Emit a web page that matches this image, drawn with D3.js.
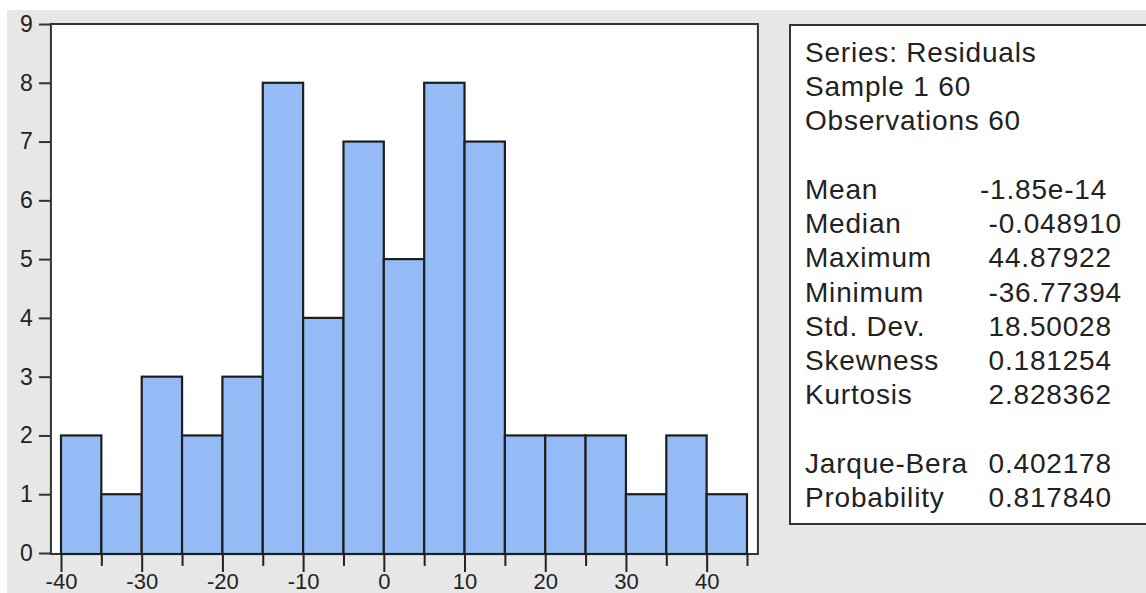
<!DOCTYPE html>
<html>
<head>
<meta charset="utf-8">
<script src="https://cdn.jsdelivr.net/npm/d3@7"></script>
<style>
  body { margin: 0; background: #fff; }
  svg { display: block; }
  text { font-family: "Liberation Sans", Arial, sans-serif; fill: #222; }
</style>
</head>
<body>
<div id="svg-container"></div>
<script>
// histogram of residuals, bins of width 5
var binStarts = [-40, -35, -30, -25, -20, -15, -10, -5, 0, 5, 10, 15, 20, 25, 30, 35, 40];
var counts    = [2, 1, 3, 2, 3, 8, 4, 7, 5, 8, 7, 2, 2, 2, 1, 2, 1];
var binWidth  = 5;

var yTicks      = [0, 1, 2, 3, 4, 5, 6, 7, 8, 9];
var xMajorTicks = [-40, -30, -20, -10, 0, 10, 20, 30, 40];
var xMinorTicks = [-35, -25, -15, -5, 5, 15, 25, 35, 45];

// descriptive statistics panel (blank strings are empty lines)
var statLabels = ["Series: Residuals", "Sample 1 60", "Observations 60", "",
                  "Mean", "Median", "Maximum", "Minimum", "Std. Dev.", "Skewness", "Kurtosis", "",
                  "Jarque-Bera", "Probability"];
var statValues = ["", "", "", "",
                  "-1.85e-14", " -0.048910", " 44.87922", " -36.77394", " 18.50028", " 0.181254", " 2.828362", "",
                  " 0.402178", " 0.817840"];

var svgWidth  = 1146;
var svgHeight = 593;

// plain hyphen for negative tick labels
var tickFmt = function(d) { return String(d); };

var svg = d3.select("#svg-container")
            .append("svg")
            .attr("width", svgWidth)
            .attr("height", svgHeight);

// grey window background
svg.append("rect")
   .attr("x", 7)
   .attr("y", 10)
   .attr("width", svgWidth - 7)
   .attr("height", svgHeight - 10)
   .style("fill", "#e7e7e7");

// scales
var xScale = d3.scaleLinear()
               .domain([-40, 45])
               .range([61, 747]);

var yScale = d3.scaleLinear()
               .domain([0, 9])
               .range([553, 24]);

// plot frame
var frameLeft  = xScale(-41.25);
var frameRight = xScale(46.35);
svg.append("rect")
   .attr("x", frameLeft)
   .attr("y", yScale(9))
   .attr("width", frameRight - frameLeft)
   .attr("height", 554 - yScale(9))
   .style("fill", "#fff")
   .attr("stroke", "#333")
   .attr("stroke-width", 2);

// bars
svg.append("g")
   .selectAll("rect")
   .data(binStarts)
   .enter()
     .append("rect")
     .attr("x", function(d) { return xScale(d); })
     .attr("y", function(d, i) { return yScale(counts[i]); })
     .attr("width", function(d) { return xScale(d + binWidth) - xScale(d); })
     .attr("height", function(d, i) { return 554 - yScale(counts[i]); })
     .attr("stroke", "#1e1e1e")
     .attr("stroke-width", 2.2)
     .style("fill", "#94bbf5");

// y axis
var yAxis = d3.axisLeft(yScale)
              .tickValues(yTicks)
              .tickSize(12)
              .tickPadding(6)
              .tickFormat(tickFmt);

var yAxisGroup = svg.append("g")
                    .attr("transform", "translate(" + frameLeft + ",0)")
                    .call(yAxis);
yAxisGroup.select(".domain").remove();
yAxisGroup.selectAll("line").attr("stroke", "#333").attr("stroke-width", 2);
yAxisGroup.selectAll("text")
          .attr("font-size", 23)
          .attr("font-family", "Liberation Sans, Arial, sans-serif")
          .attr("fill", "#222");

// x axis, major ticks with labels
var xAxis = d3.axisBottom(xScale)
              .tickValues(xMajorTicks)
              .tickSize(18)
              .tickPadding(3)
              .tickFormat(tickFmt);

var xAxisGroup = svg.append("g")
                    .attr("transform", "translate(0,554)")
                    .call(xAxis);
xAxisGroup.select(".domain").remove();
xAxisGroup.selectAll("line").attr("stroke", "#222").attr("stroke-width", 2);
xAxisGroup.selectAll("text")
          .attr("font-size", 22)
          .attr("dy", "0.62em")
          .attr("font-family", "Liberation Sans, Arial, sans-serif")
          .attr("fill", "#222");

// x axis, minor ticks
var xMinor = d3.axisBottom(xScale)
               .tickValues(xMinorTicks)
               .tickSize(12)
               .tickFormat("");

var xMinorGroup = svg.append("g")
                     .attr("transform", "translate(0,554)")
                     .call(xMinor);
xMinorGroup.select(".domain").remove();
xMinorGroup.selectAll("line").attr("stroke", "#222").attr("stroke-width", 2);

// statistics box
svg.append("rect")
   .attr("x", 790)
   .attr("y", 25)
   .attr("width", 400)
   .attr("height", 499)
   .style("fill", "#fff")
   .attr("stroke", "#333")
   .attr("stroke-width", 2);

var lineY = d3.scaleLinear()
              .domain([0, 13])
              .range([62, 507]);

svg.append("g")
   .selectAll("text")
   .data(statLabels)
   .enter()
     .append("text")
     .attr("x", 805)
     .attr("y", function(d, i) { return lineY(i); })
     .attr("font-size", 28)
     .attr("letter-spacing", 0.8)
     .text(function(d) { return d; });

svg.append("g")
   .selectAll("text")
   .data(statValues)
   .enter()
     .append("text")
     .attr("x", 980)
     .attr("y", function(d, i) { return lineY(i); })
     .attr("font-size", 28)
     .attr("letter-spacing", 0.8)
     .style("white-space", "pre")
     .text(function(d) { return d; });
</script>
</body>
</html>
